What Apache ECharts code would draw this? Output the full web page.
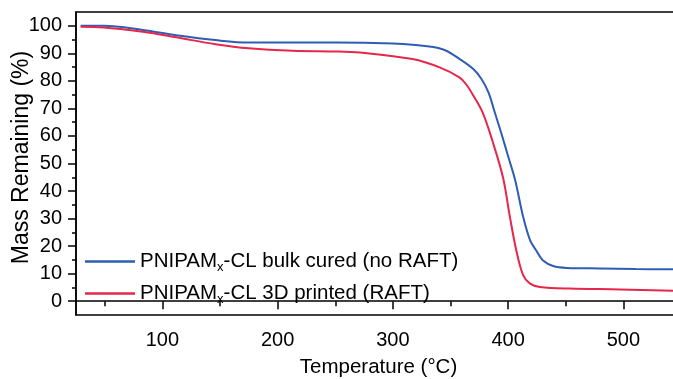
<!DOCTYPE html>
<html>
<head>
<meta charset="utf-8">
<script src="https://cdn.jsdelivr.net/npm/echarts@6/dist/echarts.min.js"></script>
<style>html,body{margin:0;padding:0;background:#fff}#c{width:673px;height:379px}</style>
</head>
<body>
<div id="c"></div>
<script>
const seriesNames = ['PNIPAM{sub|x}-CL bulk cured (no RAFT)', 'PNIPAM{sub|x}-CL 3D printed (RAFT)'];
const bulkTemps = [29, 49, 83, 112, 146, 175, 213, 250, 300, 317, 343, 358, 370, 377, 383, 388.5, 394, 400, 406, 413, 419, 425, 430, 439, 451, 480, 511, 545];
const bulkValues = [100, 100, 98.5, 96.6, 94.8, 93.9, 93.9, 93.9, 93.6, 93.1, 91.5, 87.9, 84.2, 80.6, 75.7, 68.4, 61.1, 52.6, 44.1, 30.7, 22.2, 18, 14.9, 12.8, 12.1, 11.9, 11.7, 11.6];
const printedTemps = [29, 49, 83, 112, 146, 175, 213, 250, 271, 317, 341, 358, 364, 370, 378, 386, 395.5, 401.5, 407, 413, 419, 427.5, 453.5, 497, 545];
const printedValues = [99.6, 99.4, 97.8, 95.8, 93.3, 91.8, 90.9, 90.7, 90.3, 87.9, 84.8, 81.2, 78.5, 74.5, 68.4, 58.7, 45, 30.7, 18.6, 9.5, 6.4, 5.2, 4.6, 4.3, 3.8];
const xMajorTicks = [100, 200, 300, 400, 500];
const xMinorTicks = [50, 150, 250, 350, 450, 550];
const yMajorTicks = [0, 10, 20, 30, 40, 50, 60, 70, 80, 90, 100];
const yMinorTicks = [5, 15, 25, 35, 45, 55, 65, 75, 85, 95];

const FONT = '"Liberation Sans", Arial, sans-serif';
const pair = (xs, ys) => xs.map((x, i) => [x, ys[i]]);

const chart = echarts.init(document.getElementById('c'), null, {renderer: 'canvas'});
const xBase = {type: 'value', min: 25, max: 550, splitLine: {show: false}};
const yBase = {type: 'value', min: -5, max: 105, splitLine: {show: false}};
chart.setOption({
  animation: false,
  backgroundColor: '#fff',
  textStyle: {fontFamily: FONT},
  grid: {left: 76, top: 12, width: 605, height: 303, outerBoundsMode: 'none', containLabel: false,
    show: true, borderColor: '#000', borderWidth: 1.5, backgroundColor: 'transparent'},
  xAxis: [
    Object.assign({}, xBase, {
      position: 'bottom',
      axisLine: {lineStyle: {color: '#000', width: 1.5}},
      axisTick: {customValues: xMajorTicks, length: 8, lineStyle: {color: '#000', width: 1.5}},
      axisLabel: {customValues: xMajorTicks, color: '#000', fontSize: 20, fontFamily: FONT, margin: 15},
      name: 'Temperature (°C)', nameLocation: 'middle', nameGap: 42, nameMoveOverlap: false,
      nameTextStyle: {color: '#000', fontSize: 20.5, fontFamily: FONT}
    }),
    Object.assign({}, xBase, {
      position: 'bottom',
      axisLine: {show: false},
      axisTick: {customValues: xMinorTicks, length: 5, lineStyle: {color: '#000', width: 1.5}},
      axisLabel: {show: false}
    })
  ],
  yAxis: [
    Object.assign({}, yBase, {
      position: 'left',
      axisLine: {show: true, lineStyle: {color: '#000', width: 1.5}},
      axisTick: {show: true, customValues: yMajorTicks, length: 8, lineStyle: {color: '#000', width: 1.5}},
      axisLabel: {customValues: yMajorTicks, color: '#000', fontSize: 20, fontFamily: FONT, margin: 14},
      name: 'Mass Remaining (%)', nameLocation: 'middle', nameGap: 43, nameMoveOverlap: false,
      nameTextStyle: {color: '#000', fontSize: 23, fontFamily: FONT, padding: [0, 0, 0, 12]}
    }),
    Object.assign({}, yBase, {
      position: 'left',
      axisLine: {show: false},
      axisTick: {show: true, customValues: yMinorTicks, length: 4, lineStyle: {color: '#000', width: 1.5}},
      axisLabel: {show: false}
    })
  ],
  legend: {
    orient: 'vertical', left: 80, top: 246, itemWidth: 50, itemHeight: 2.5, itemGap: 9, icon: 'rect',
    data: [seriesNames[0], seriesNames[1]],
    textStyle: {
      color: '#000', fontSize: 20.5, fontFamily: FONT,
      rich: {
        sub: {fontSize: 13, fontFamily: FONT, color: '#000', padding: [12, 0, 0, 0]}
      }
    }
  },
  series: [
    {
      name: seriesNames[0], type: 'line', data: pair(bulkTemps, bulkValues),
      xAxisIndex: 0, yAxisIndex: 0, symbol: 'none', smooth: 0.35,
      lineStyle: {color: '#2E5DB2', width: 2}, itemStyle: {color: '#2E5DB2'}
    },
    {
      name: seriesNames[1], type: 'line', data: pair(printedTemps, printedValues),
      xAxisIndex: 0, yAxisIndex: 0, symbol: 'none', smooth: 0.35,
      lineStyle: {color: '#E6264A', width: 2}, itemStyle: {color: '#E6264A'}
    }
  ]
});
</script>
</body>
</html>
